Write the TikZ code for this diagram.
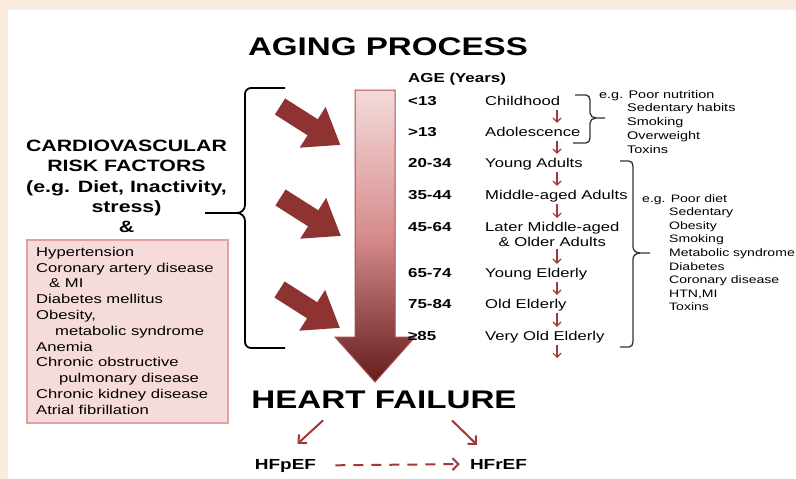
\documentclass[tikz,border=0pt]{standalone}
\usepackage{fontspec}
\setmainfont{Liberation Sans}[FakeStretch=1.3]
\usetikzlibrary{arrows.meta,calc}

\definecolor{peach}{RGB}{251,236,224}
\definecolor{darkred}{RGB}{142,50,50}
\definecolor{arrowred}{RGB}{165,55,55}
\definecolor{boxpink}{RGB}{246,219,219}
\definecolor{boxline}{RGB}{228,160,160}
\definecolor{shaftlight}{RGB}{244,218,218}
\definecolor{shaftmid}{RGB}{214,140,140}
\definecolor{shaftdark}{RGB}{100,28,28}
\definecolor{shaftline}{RGB}{170,80,80}

\begin{document}
\begin{tikzpicture}[x=1pt,y=-1pt]
\tikzset{
  TitleStyle/.style = {inner sep=0pt, font=\fontsize{25.5}{30}\selectfont\bfseries},
  AgeStyle/.style = {anchor=base west, inner sep=0pt,
                     font=\fontsize{13}{15}\selectfont\bfseries},
  StageStyle/.style = {anchor=base west, inner sep=0pt, text height=9.5pt,
                       text depth=2.7pt, font=\fontsize{12.8}{15}\selectfont},
  NoteStyle/.style = {anchor=north west, inner sep=0pt, align=left,
                      font=\fontsize{11.1}{13.7}\selectfont},
  HFStyle/.style = {anchor=base, inner sep=0pt, font=\fontsize{14.6}{17}\selectfont\bfseries},
  StepArrow/.style = {arrowred, line width=1.2pt,
                      -{Straight Barb[length=4pt,width=8pt]}, shorten <=2pt, shorten >=4pt},
  HFArrow/.style = {arrowred, line width=2pt, -{Straight Barb[length=6pt,width=12pt]}},
  FatArrow/.style = {darkred, line width=19pt, -{Triangle[length=33pt,width=46pt]}},
  BigBrace/.style = {line width=1.8pt, line join=round},
  SmallBrace/.style = {black!80, line width=1.3pt, line join=round},
}

\useasboundingbox (0,0) rectangle (796,479);
\fill[peach] (0,0) rectangle (796,479);
\fill[white] (8,10) rectangle (796,479);

% titles
\node[TitleStyle, anchor=base] (aging) at (388,55.5) {AGING PROCESS};
\node[TitleStyle, anchor=base] (hf) at (384,408) {HEART FAILURE};
\node[AgeStyle] (agehead) at (408,82) {AGE (Years)};

% big arrow
\shadedraw[draw=shaftline, line width=1pt, top color=shaftlight, bottom color=shaftdark,
  middle color=shaftmid]
  (355,90) -- (395,90) -- (395,337) -- (415,337) -- (375,382) -- (335,337) -- (355,337) -- cycle;

% risk factors pushing in
\draw[FatArrow] (280,106.5) -- (340.5,145);
\draw[FatArrow] (280.5,197.5) -- (341,236);
\draw[FatArrow] (279.5,289.5) -- (340,328);

% ages and stages
\foreach \n/\y/\t in {1/105/{<13}, 2/136.5/{>13}, 3/167.5/{20-34}, 4/199.5/{35-44},
                      5/231.5/{45-64}, 6/277.5/{65-74}, 7/308.5/{75-84}, 8/340.5/{≥85}}
  \node[AgeStyle] (a\n) at (408,\y) {\t};

\node[StageStyle] (s1) at (485,105) {Childhood};
\node[StageStyle] (s2) at (485,136.5) {Adolescence};
\node[StageStyle] (s3) at (485,167.5) {Young Adults};
\node[StageStyle] (s4) at (485,199.5) {Middle-aged Adults};
\node[anchor=north west, inner sep=0pt, align=center, font=\fontsize{12.8}{15}\selectfont]
  (s5) at (485,222) {Later Middle-aged\\\& Older Adults};
\node[StageStyle] (s6) at (485,277.5) {Young Elderly};
\node[StageStyle] (s7) at (485,308.5) {Old Elderly};
\node[StageStyle] (s8) at (485,340.5) {Very Old Elderly};

\coordinate (col) at (557,0);
\foreach \i/\j in {1/2,2/3,3/4,4/5,5/6,6/7,7/8}
  \draw[StepArrow] (s\i.south -| col) -- (s\j.north -| col);
\coordinate (sEnd) at (557,362);
\draw[StepArrow] (s8.south -| col) -- (sEnd);

% braces
\draw[BigBrace] (285,88) -- (251,88) to[out=180,in=90] (245,94) -- (245,205)
  to[out=-90,in=0] (237,213) -- (205,213);
\draw[BigBrace] (237,213) to[out=0,in=90] (245,221) -- (245,342)
  to[out=-90,in=180] (251,348) -- (285,348);

\draw[SmallBrace] (575,95) -- (586,95) to[out=0,in=90] (590,100) -- (590,113)
  to[out=-90,in=180] (596,118) -- (605,118);
\draw[SmallBrace] (596,118) to[out=180,in=90] (590,123) -- (590,138)
  to[out=-90,in=0] (586,143) -- (573,143);

\draw[SmallBrace] (620,161) -- (629,161) to[out=0,in=90] (633,166) -- (633,247)
  to[out=-90,in=180] (640,253) -- (650,253);
\draw[SmallBrace] (640,253) to[out=180,in=90] (633,259) -- (633,342)
  to[out=-90,in=0] (629,347) -- (620,347);

% notes
\node[NoteStyle] (note1) at (599,90) {e.g. Poor nutrition\\
  \hspace*{28pt}Sedentary habits\\\hspace*{28pt}Smoking\\
  \hspace*{28pt}Overweight\\\hspace*{28pt}Toxins};
\node[NoteStyle, font=\fontsize{10.8}{13.6}\selectfont] (note2) at (642,194) {e.g. Poor diet\\
  \hspace*{27pt}Sedentary\\\hspace*{27pt}Obesity\\\hspace*{27pt}Smoking\\
  \hspace*{27pt}Metabolic syndrome\\\hspace*{27pt}Diabetes\\
  \hspace*{27pt}Coronary disease\\\hspace*{27pt}HTN,MI\\\hspace*{27pt}Toxins};

% left side
\node[anchor=north, align=center, inner sep=0pt, font=\fontsize{16.4}{20.3}\selectfont\bfseries]
  (cvrisk) at (126.5,140) {CARDIOVASCULAR\\RISK FACTORS\\(e.g. Diet, Inactivity,\\stress)\\\&};

\node[draw=boxline, fill=boxpink, line width=1.5pt, minimum width=201pt,
  minimum height=183pt, anchor=north west, inner sep=0pt] (riskbox) at (26,239) {};
\node[anchor=north west, align=left, inner sep=0pt, font=\fontsize{12.8}{15.8}\selectfont]
  (risklist) at (36,246.8) {Hypertension\\Coronary artery disease\\\hspace*{13pt}\& MI\\
  Diabetes mellitus\\Obesity,\\\hspace*{19pt}metabolic syndrome\\Anemia\\
  Chronic obstructive\\\hspace*{23pt}pulmonary disease\\Chronic kidney disease\\
  Atrial fibrillation};

% heart failure types
\node[HFStyle] (hfp) at (285.5,469) {HFpEF};
\node[HFStyle] (hfr) at (498.5,469) {HFrEF};

\draw[HFArrow] ($(hf.south)+(-61,12)$) -- ($(hfp.north)+(12,-15)$);
\draw[HFArrow] ($(hf.south)+(68,12)$) -- ($(hfr.north)+(-21.5,-14)$);
\draw[HFArrow, dash pattern=on 10pt off 8pt, shorten <=19pt, shorten >=10pt]
  (hfp.east) -- (hfr.west);

\end{tikzpicture}
\end{document}
